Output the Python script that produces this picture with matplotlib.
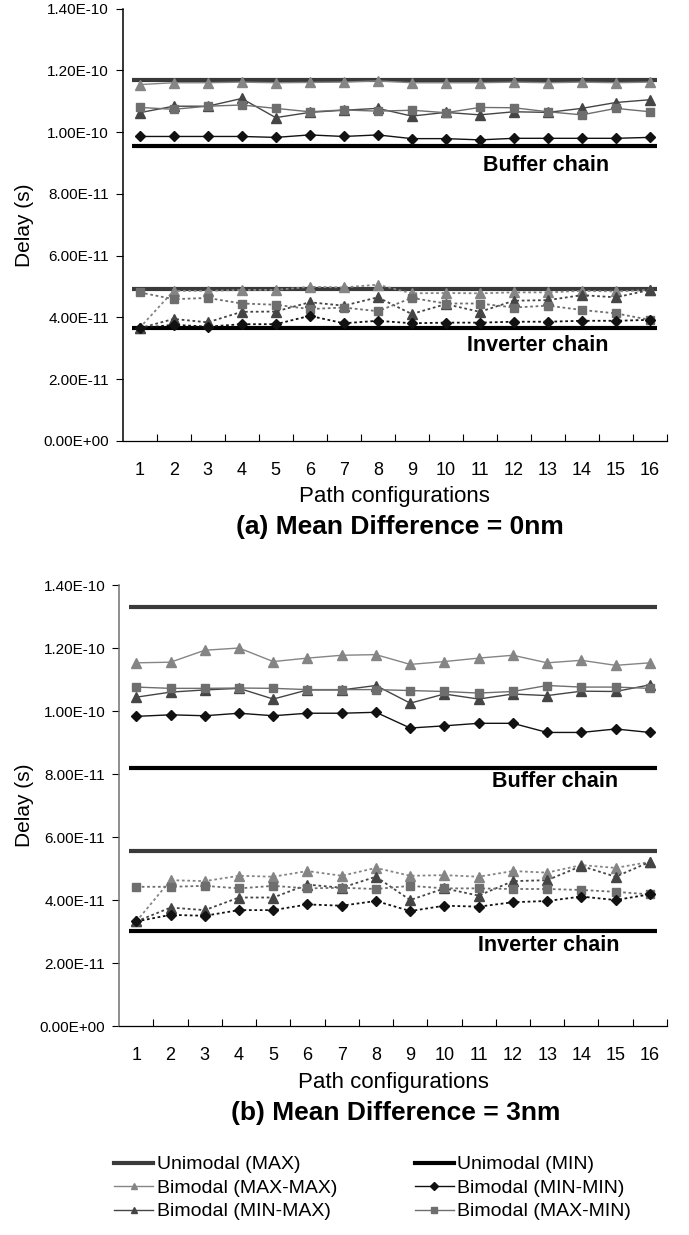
import matplotlib
matplotlib.use("Agg")
import matplotlib.pyplot as plt
from matplotlib.lines import Line2D
import numpy as np

plt.rcParams['font.family'] = ['Liberation Sans', 'DejaVu Sans']

configs = list(range(1, 17))
config_labels = [str(c) for c in configs]
yticks = [0, 2e-11, 4e-11, 6e-11, 8e-11, 1e-10, 1.2e-10, 1.4e-10]
ytick_labels = ["0.00E+00", "2.00E-11", "4.00E-11", "6.00E-11", "8.00E-11",
                "1.00E-10", "1.20E-10", "1.40E-10"]

# ---- (a) Mean Difference = 0nm  (values in ps) ----
a_buf_uni_max = 116.8
a_buf_uni_min = 95.4
a_buf_maxmax = [115.4, 116.0, 116.0, 116.2, 116.0, 116.1, 116.2, 116.6, 116.0, 116.0, 116.0, 116.2, 116.0, 116.2, 116.0, 116.2]
a_buf_minmax = [106.3, 108.4, 108.4, 110.9, 104.7, 106.4, 107.1, 107.7, 105.2, 106.4, 105.6, 106.6, 106.4, 107.7, 109.6, 110.5]
a_buf_maxmin = [108.0, 107.4, 108.4, 108.8, 107.7, 106.6, 107.2, 106.8, 107.1, 106.3, 108.0, 107.9, 106.6, 105.6, 107.7, 106.6]
a_buf_minmin = [98.6, 98.6, 98.6, 98.6, 98.3, 99.1, 98.6, 99.1, 97.9, 97.9, 97.5, 98.0, 98.0, 98.0, 98.0, 98.3]

a_inv_uni_max = 49.2
a_inv_uni_min = 36.6
a_inv_maxmax = [36.6, 48.6, 48.6, 48.9, 48.9, 49.9, 49.7, 50.6, 47.8, 47.9, 47.8, 48.1, 48.1, 48.6, 48.4, 48.9]
a_inv_minmax = [36.5, 39.5, 38.4, 41.8, 41.9, 44.9, 43.8, 46.5, 41.1, 44.3, 41.8, 45.4, 45.6, 47.2, 46.5, 48.9]
a_inv_maxmin = [48.1, 45.9, 46.3, 44.5, 44.1, 42.7, 43.2, 42.0, 46.3, 44.5, 44.5, 43.2, 43.8, 42.4, 41.3, 39.2]
a_inv_minmin = [36.5, 37.6, 37.0, 37.8, 37.8, 40.5, 38.1, 38.9, 38.1, 38.3, 38.3, 38.6, 38.6, 38.9, 38.9, 39.2]

# ---- (b) Mean Difference = 3nm  (values in ps) ----
b_buf_uni_max = 133.0
b_buf_uni_min = 82.0
b_buf_maxmax = [115.3, 115.5, 119.3, 120.0, 115.7, 116.8, 117.7, 117.9, 114.8, 115.7, 116.8, 117.7, 115.3, 116.1, 114.5, 115.3]
b_buf_minmax = [104.4, 106.0, 106.7, 107.2, 103.8, 106.7, 106.7, 108.1, 102.5, 105.4, 103.8, 105.4, 104.9, 106.3, 106.2, 108.3]
b_buf_maxmin = [107.6, 107.2, 107.2, 107.3, 107.2, 106.8, 106.8, 106.8, 106.5, 106.2, 105.7, 106.2, 108.1, 107.6, 107.6, 107.2]
b_buf_minmin = [98.3, 98.8, 98.5, 99.3, 98.5, 99.3, 99.3, 99.6, 94.6, 95.3, 96.1, 96.1, 93.2, 93.2, 94.3, 93.2]

b_inv_uni_max = 55.6
b_inv_uni_min = 30.3
b_inv_maxmax = [33.2, 46.3, 46.0, 47.7, 47.4, 49.2, 47.7, 50.2, 47.7, 47.9, 47.4, 49.2, 48.7, 51.1, 50.2, 52.1]
b_inv_minmax = [33.2, 37.6, 36.8, 40.8, 40.8, 44.9, 43.9, 47.4, 40.0, 43.7, 41.4, 46.0, 46.3, 50.8, 47.4, 52.1]
b_inv_maxmin = [44.2, 44.2, 44.5, 43.7, 44.5, 43.7, 43.9, 43.5, 44.5, 43.7, 43.7, 43.5, 43.5, 43.2, 42.6, 41.8]
b_inv_minmin = [33.2, 35.3, 35.0, 36.8, 36.8, 38.6, 38.2, 39.7, 36.5, 38.2, 37.9, 39.3, 39.7, 41.1, 40.0, 41.8]

legend_labels = ["Unimodal (MAX)", "Bimodal (MAX-MAX)", "Bimodal (MIN-MAX)",
                 "Unimodal (MIN)", "Bimodal (MIN-MIN)", "Bimodal (MAX-MIN)"]

PS = 1e-12
C_UMAX = "#3a3a3a"
C_UMIN = "#000000"
C_MAXMAX = "#858585"
C_MINMAX = "#454545"
C_MAXMIN = "#6e6e6e"
C_MINMIN = "#111111"

fig = plt.figure(figsize=(6.89, 12.35), dpi=100)
ax_a = fig.add_axes([0.178, 0.6430, 0.790, 0.3500])
ax_b = fig.add_axes([0.173, 0.1692, 0.795, 0.3571])


def draw(ax, uni, buf, inv, title, t_xy, buf_txt, inv_txt, ylab_x, spine_col):
    x = np.array(configs)
    for (vmax, vmin) in uni:
        ax.plot([0.78, 16.2], [vmax * PS, vmax * PS], color=C_UMAX, lw=3.0,
                solid_capstyle='butt', zorder=2)
        ax.plot([0.78, 16.2], [vmin * PS, vmin * PS], color=C_UMIN, lw=3.0,
                solid_capstyle='butt', zorder=2)
    specs = [("maxmax", C_MAXMAX, '^', 6.5), ("minmax", C_MINMAX, '^', 6.5),
             ("maxmin", C_MAXMIN, 's', 5.5), ("minmin", C_MINMIN, 'D', 4.8)]
    for key, col, mk, ms in specs:
        ax.plot(x, np.array(buf[key]) * PS, color=col, lw=1.0, marker=mk,
                ms=ms, mec=col, mfc=col, zorder=3)
        ax.plot(x, np.array(inv[key]) * PS, color=col, lw=1.3, ls=(0, (1.5, 1.5)),
                marker=mk, ms=ms, mec=col, mfc=col, zorder=3)
    ax.set_xlim(0.5, 16.5)
    ax.set_ylim(0, 1.4e-10)
    ax.set_yticks(yticks)
    ax.set_yticklabels(ytick_labels, fontsize=11)
    ax.set_xticks(x)
    ax.set_xticklabels(config_labels, fontsize=13)
    ax.set_xticks(np.arange(1.5, 17, 1.0), minor=True)
    ax.tick_params(axis='x', which='major', length=0, pad=15)
    ax.tick_params(axis='x', which='minor', length=5, direction='in', width=0.8)
    ax.tick_params(axis='y', which='major', length=5, direction='out', width=0.8, pad=5)
    for s in ['top', 'right']:
        ax.spines[s].set_visible(False)
    ax.spines['bottom'].set_linewidth(0.9)
    ax.spines['left'].set_linewidth(1.1)
    ax.spines['left'].set_color(spine_col)
    ax.set_ylabel("Delay (s)", fontsize=15)
    ax.yaxis.set_label_coords(ylab_x, 0.5)
    ax.yaxis.label.set_va('center')
    xl = ax.set_xlabel("Path configurations", fontsize=16)
    xl.set_va('center')
    ax.xaxis.set_label_coords(0.5, -56 / (ax.get_position().height * 1235))
    ax.text(buf_txt[0], buf_txt[1] * PS, "Buffer chain", fontsize=15.5, fontweight='bold',
            ha='center', va='center')
    ax.text(inv_txt[0], inv_txt[1] * PS, "Inverter chain", fontsize=15.5, fontweight='bold',
            ha='center', va='center')
    fig.text(t_xy[0], t_xy[1], title, fontsize=19, fontweight='bold', ha='center', va='center')


draw(ax_a, [(a_buf_uni_max, a_buf_uni_min), (a_inv_uni_max, a_inv_uni_min)],
     {"maxmax": a_buf_maxmax, "minmax": a_buf_minmax, "maxmin": a_buf_maxmin, "minmin": a_buf_minmin},
     {"maxmax": a_inv_maxmax, "minmax": a_inv_minmax, "maxmin": a_inv_maxmin, "minmin": a_inv_minmin},
     "(a) Mean Difference = 0nm", (0.581, 0.5733), (12.95, 89.3), (12.69, 30.8), -0.18, "#000000")
draw(ax_b, [(b_buf_uni_max, b_buf_uni_min), (b_inv_uni_max, b_inv_uni_min)],
     {"maxmax": b_buf_maxmax, "minmax": b_buf_minmax, "maxmin": b_buf_maxmin, "minmin": b_buf_minmin},
     {"maxmax": b_inv_maxmax, "minmax": b_inv_minmax, "maxmin": b_inv_maxmin, "minmin": b_inv_minmin},
     "(b) Mean Difference = 3nm", (0.575, 0.0988), (13.24, 77.6), (13.04, 25.7), -0.172, "#707070")

leg_handles = [
    Line2D([], [], color=C_UMAX, lw=3.0),
    Line2D([], [], color=C_MAXMAX, lw=1.0, marker='^', ms=5, mfc=C_MAXMAX, mec=C_MAXMAX),
    Line2D([], [], color=C_MINMAX, lw=1.0, marker='^', ms=5, mfc=C_MINMAX, mec=C_MINMAX),
    Line2D([], [], color=C_UMIN, lw=3.0),
    Line2D([], [], color=C_MINMIN, lw=1.0, marker='D', ms=4, mfc=C_MINMIN, mec=C_MINMIN),
    Line2D([], [], color=C_MAXMIN, lw=1.0, marker='s', ms=4.5, mfc=C_MAXMIN, mec=C_MAXMIN),
]
fig.legend(leg_handles, legend_labels, ncol=2, loc='center', bbox_to_anchor=(0.541, 0.038),
           frameon=False, fontsize=14, handlelength=2.0, handletextpad=0.18,
           columnspacing=4.0, labelspacing=0.3, borderpad=0.0)

fig.savefig("out.png", dpi=100)
